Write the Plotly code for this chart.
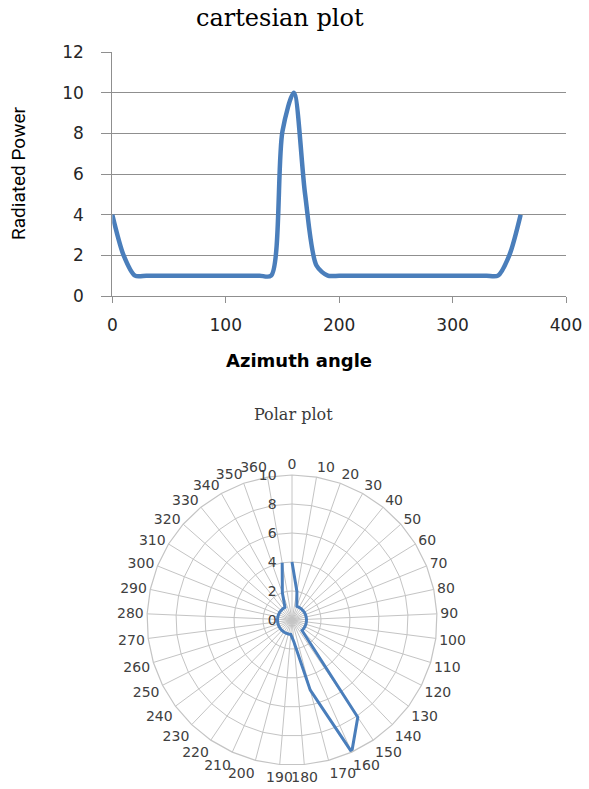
import plotly.graph_objects as go

# ---- data ----
azimuth = [0, 10, 20, 30, 40, 50, 60, 70, 80, 90, 100, 110, 120, 130, 140, 150, 160, 170, 180,
           190, 200, 210, 220, 230, 240, 250, 260, 270, 280, 290, 300, 310, 320, 330, 340, 350, 360]
power = [4, 2, 1, 1, 1, 1, 1, 1, 1, 1, 1, 1, 1, 1, 1, 8.1, 10, 5, 1.5,
         1, 1, 1, 1, 1, 1, 1, 1, 1, 1, 1, 1, 1, 1, 1, 1, 2, 4]
angle_labels = [str(a) for a in azimuth]
x_ticks = [0, 100, 200, 300, 400]
y_ticks = [0, 2, 4, 6, 8, 10, 12]
r_ticks = [0, 2, 4, 6, 8, 10]

W, H = 589, 789
BLUE = "#4A7EBB"
GRID = "#8f8f8f"
PGRID = "#c4c4c4"
TXT = "#262626"

def px_x(p):
    return p / W

def px_y(p):
    return 1 - p / H

PCX, PCY, PR = 292, 620, 145

fig = go.Figure()

fig.add_trace(go.Scatter(
    x=azimuth, y=power, mode="lines",
    line=dict(color=BLUE, width=4.5, shape="spline", smoothing=0.8),
    xaxis="x", yaxis="y", showlegend=False, hoverinfo="x+y"))

fig.add_trace(go.Scatterpolar(
    theta=angle_labels, r=power, mode="lines",
    line=dict(color=BLUE, width=3),
    subplot="polar", showlegend=False))

tick_font = dict(family="DejaVu Sans, Verdana, sans-serif", size=17, color=TXT)
pfont = dict(family="DejaVu Sans, sans-serif", size=14, color="#404040")

fig.update_layout(
    template="none",
    width=W, height=H,
    margin=dict(l=0, r=0, t=0, b=0, pad=0, autoexpand=False),
    paper_bgcolor="white", plot_bgcolor="white",
    xaxis=dict(
        domain=[px_x(112.3), px_x(566)], anchor="y", automargin=False,
        range=[0, 400], tickvals=x_ticks, ticks="outside", ticklen=6,
        tickcolor=GRID, showline=True, linecolor=GRID, linewidth=1,
        showgrid=False, zeroline=False, tickfont=tick_font,
        ticklabelstandoff=8),
    yaxis=dict(
        domain=[px_y(296), px_y(52)], anchor="x", automargin=False,
        range=[0, 12], tickvals=y_ticks, ticks="outside", ticklen=10,
        tickcolor=GRID, showline=True, linecolor=GRID, linewidth=1,
        showgrid=True, gridcolor=GRID, gridwidth=1, zeroline=False,
        tickfont=tick_font, ticklabelstandoff=14),
    polar=dict(
        domain=dict(x=[px_x(PCX - PR), px_x(PCX + PR)],
                    y=[px_y(PCY + PR), px_y(PCY - PR)]),
        bgcolor="white",
        gridshape="linear",
        angularaxis=dict(
            type="category", categoryarray=angle_labels, rotation=90,
            direction="clockwise", showline=True, linecolor=PGRID, linewidth=1.2,
            showgrid=True, gridcolor=PGRID, gridwidth=1, ticks="",
            tickfont=pfont),
        radialaxis=dict(
            range=[0, 10], tickvals=r_ticks, angle=90, side="counterclockwise",
            showline=False, showgrid=True, gridcolor=PGRID, gridwidth=1,
            ticks="outside", ticklen=10, tickcolor="rgba(0,0,0,0)",
            tickangle=90, tickfont=pfont)),
    annotations=[
        dict(text="cartesian plot", x=px_x(280), y=px_y(18), xref="paper", yref="paper",
             showarrow=False, xanchor="center", yanchor="middle",
             font=dict(family="DejaVu Serif, Liberation Serif, serif", size=24, color="#000000")),
        dict(text="Radiated Power", x=px_x(18), y=px_y(174), xref="paper", yref="paper",
             showarrow=False, xanchor="center", yanchor="middle", textangle=-90,
             font=dict(family="Liberation Sans Narrow, Arial Narrow, Roboto, sans-serif",
                       size=19, color="#000000")),
        dict(text="<b>Azimuth angle</b>", x=px_x(299), y=px_y(360), xref="paper", yref="paper",
             showarrow=False, xanchor="center", yanchor="middle",
             font=dict(family="DejaVu Sans, Verdana, sans-serif", size=18, color="#000000")),
        dict(text="Polar plot", x=px_x(293), y=px_y(414), xref="paper", yref="paper",
             showarrow=False, xanchor="center", yanchor="middle",
             font=dict(family="DejaVu Serif, Liberation Serif, serif", size=16, color="#3a3a3a")),
    ],
)

fig.write_html("out.html")
